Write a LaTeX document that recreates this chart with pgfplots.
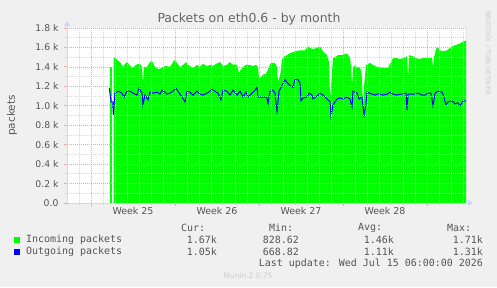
\documentclass[border=0pt]{standalone}
\usepackage{fontspec}
\setmainfont{DejaVu Sans}
\newfontfamily\monofont{DejaVu Sans Mono}
\usepackage{pgfplots}
\pgfplotsset{compat=1.18}
\usetikzlibrary{arrows.meta}
\definecolor{bgc}{HTML}{F0F0F0}
\definecolor{fontc}{HTML}{555555}
\definecolor{titlec}{HTML}{666666}
\definecolor{axc}{HTML}{CFD6F8}
\definecolor{mgrid}{HTML}{EBA8A8}
\definecolor{mingrid}{HTML}{D8D8D8}
\definecolor{incol}{HTML}{00FF00}
\definecolor{outcol}{HTML}{0000FF}
\begin{document}
\begin{tikzpicture}[x=1bp,y=1bp]
\fill[bgc] (0,0) rectangle (497,287);
\begin{axis}[
  at={(67bp,84bp)}, anchor=south west,
  scale only axis, width=399bp, height=175bp,
  xmin=0, xmax=33.25, ymin=0, ymax=1800,
  axis background/.style={fill=white},
  axis on top,
  axis x line*=bottom, axis y line*=left,
  axis line style={axc, line width=1bp},
  xtick={2,9,16,23,30}, xticklabels={},
  minor xtick={0,1,...,33},
  ytick={0,200,...,1800},
  yticklabels={0.0,0.2 k,0.4 k,0.6 k,0.8 k,1.0 k,1.2 k,1.4 k,1.6 k,1.8 k},
  minor ytick={100,300,...,1700},
  grid=both,
  major grid style={mgrid, line width=0.7bp, dash pattern=on 1bp off 1bp},
  minor grid style={mingrid, line width=0.7bp, dash pattern=on 1bp off 1bp},
  tick align=outside,
  major tick length=3bp, minor tick length=2bp,
  major tick style={mgrid, line width=0.8bp},
  minor tick style={mingrid, line width=0.8bp},
  ticklabel style={font=\fontsize{9.3}{11}\selectfont, text=fontc},
  yticklabel style={xshift=-2bp},
  extra x ticks={5.5,12.5,19.5,26.5},
  extra x tick labels={Week 25,Week 26,Week 27,Week 28},
  extra x tick style={grid=none, major tick length=0pt, xticklabel style={font=\fontsize{9.5}{11}\selectfont, text=fontc, yshift=-1bp}},
]
\addplot[draw=none, fill=incol] coordinates {(3.58,1400)(3.75,1400)} \closedcycle;
\addplot[draw=none, fill=incol] coordinates {
(3.89,1500)(4.08,1490)(4.17,1470)(4.42,1450)(4.67,1400)(4.83,1430)(5.00,1450)(5.25,1410)
(5.50,1390)(5.75,1420)(5.92,1430)(6.08,1430)(6.25,1400)(6.33,1230)(6.42,1400)(6.67,1400)
(6.92,1450)(7.08,1460)(7.33,1400)(7.58,1380)(7.75,1380)(8.00,1400)(8.25,1410)(8.58,1400)
(8.75,1430)(8.92,1470)(9.17,1440)(9.42,1400)(9.67,1420)(9.92,1450)(10.08,1420)(10.25,1410)
(10.50,1390)(10.83,1420)(11.08,1400)(11.33,1430)(11.67,1410)(11.92,1420)(12.17,1410)(12.42,1430)
(12.75,1450)(13.00,1410)(13.33,1420)(13.58,1450)(13.83,1420)(14.08,1430)(14.25,1390)(14.33,1330)
(14.42,1360)(14.67,1400)(14.92,1420)(15.25,1420)(15.50,1410)(15.75,1420)(15.92,1400)(16.00,1280)
(16.17,1300)(16.33,1320)(16.58,1330)(16.75,1370)(16.92,1430)(17.08,1440)(17.33,1440)(17.50,1400)
(17.58,1250)(17.75,1300)(17.92,1470)(18.00,1500)(18.33,1520)(18.58,1540)(19.00,1560)(19.42,1570)
(19.83,1570)(20.08,1610)(20.50,1580)(20.83,1600)(21.08,1610)(21.33,1560)(21.67,1520)(21.83,1450)
(21.92,1090)(22.00,1200)(22.17,1500)(22.33,1500)(22.58,1520)(22.92,1520)(23.33,1540)(23.58,1500)
(23.67,1400)(23.75,1200)(23.83,1390)(24.00,1420)(24.17,1390)(24.42,1400)(24.58,1300)(24.67,940)
(24.75,1200)(24.92,1420)(25.25,1440)(25.50,1420)(25.83,1400)(26.33,1390)(26.75,1390)(27.00,1450)
(27.17,1490)(27.50,1490)(27.75,1480)(28.00,1490)(28.33,1510)(28.42,1280)(28.50,1520)(28.83,1510)
(29.25,1480)(29.67,1490)(30.08,1490)(30.42,1490)(30.50,1390)(30.58,1500)(30.83,1610)(31.08,1570)
(31.33,1560)(31.67,1570)(32.08,1610)(32.50,1630)(32.75,1640)(33.00,1660)(33.25,1670)
} \closedcycle;
\addplot[outcol, line width=1bp] coordinates {
(3.53,1180)(3.67,1040)(3.81,1040)(3.86,905)(4.00,1130)(4.25,1150)(4.58,1130)(4.75,1090)
(5.00,1150)(5.25,1150)(5.50,1130)(5.83,1110)(6.00,1180)(6.25,1130)(6.33,1010)(6.50,1110)
(6.75,1060)(6.92,1140)(7.17,1130)(7.50,1140)(7.75,1120)(7.92,1160)(8.17,1140)(8.33,1120)
(8.58,1130)(8.83,1150)(9.08,1180)(9.25,1150)(9.58,1090)(9.83,1040)(10.00,1150)(10.25,1140)
(10.50,1110)(10.83,1150)(11.08,1120)(11.33,1110)(11.67,1130)(11.92,1150)(12.08,1170)(12.33,1150)
(12.58,1130)(12.83,1060)(13.00,1160)(13.33,1150)(13.58,1110)(13.83,1160)(14.17,1110)(14.42,1150)
(14.67,1090)(14.92,1140)(15.08,1090)(15.42,1130)(15.67,1160)(15.83,1190)(15.92,1090)(16.25,1090)
(16.50,1090)(16.67,1080)(16.75,1020)(16.92,1150)(17.17,1160)(17.33,1130)(17.50,940)(17.67,1150)
(17.92,1210)(18.17,1270)(18.33,1240)(18.58,1210)(18.83,1190)(19.00,1270)(19.25,1270)(19.42,1230)
(19.50,1050)(19.67,1080)(20.00,1090)(20.17,1130)(20.42,1110)(20.50,1070)(20.83,1100)(21.08,1130)
(21.33,1110)(21.67,1070)(21.92,1040)(22.00,890)(22.17,1010)(22.50,1070)(22.75,1080)(23.00,1070)
(23.33,1090)(23.58,1070)(23.75,990)(23.83,1150)(24.17,1130)(24.33,1070)(24.58,1090)(24.75,905)
(24.92,1020)(25.00,1140)(25.42,1120)(25.67,1110)(25.83,1120)(26.08,1120)(26.33,1110)(26.67,1120)
(26.92,1140)(27.17,1120)(27.50,1110)(27.75,1120)(28.00,1120)(28.25,1130)(28.33,955)(28.42,1120)
(28.75,1120)(29.00,1120)(29.25,1130)(29.58,1110)(29.83,1110)(30.08,1130)(30.33,1130)(30.50,1000)
(30.67,1130)(30.92,1150)(31.25,1140)(31.33,1120)(31.58,1010)(31.75,1040)(32.08,1050)(32.33,1020)
(32.58,1030)(32.75,1000)(33.00,1050)(33.25,1050)
};
\draw[gray!80, line width=1bp] (axis cs:33.25,0) -- (axis cs:33.25,1800);
\end{axis}
% axis arrows
\draw[axc, line width=1bp, -{Triangle[length=5bp,width=6bp]}] (67,84) -- (67,266);
\draw[axc, line width=1bp, -{Triangle[length=5bp,width=6bp]}] (67,84) -- (473,84);
% title and labels
\node[font=\fontsize{12.5}{14}\selectfont, text=titlec] at (249,268) {Packets on eth0.6 - by month};
\node[rotate=90, font=\fontsize{10.5}{12}\selectfont, text=fontc] at (12,171.5) {packets};
\node[rotate=-90, font=\fontsize{6.5}{8}\selectfont, text={rgb,255:red,200;green,200;blue,200}] at (488,234) {RRDTOOL / TOBI OETIKER};
% legend
\begin{scope}[every node/.style={inner sep=0pt, font=\monofont\fontsize{10}{12}\selectfont, text=fontc}]
\node[anchor=west] at (181,59) {Cur:};
\node[anchor=west] at (269,59) {Min:};
\node[anchor=west] at (358,59) {Avg:};
\node[anchor=west] at (447,59) {Max:};
\fill[incol] (14,44) rectangle (20,50);
\node[anchor=west] at (26,47) {Incoming packets};
\node[anchor=east] at (217,47) {1.67k};
\node[anchor=east] at (299,47) {828.62};
\node[anchor=east] at (394,47) {1.46k};
\node[anchor=east] at (483,47) {1.71k};
\fill[outcol] (14,32) rectangle (20,38);
\node[anchor=west] at (26,35) {Outgoing packets};
\node[anchor=east] at (217,35) {1.05k};
\node[anchor=east] at (299,35) {668.82};
\node[anchor=east] at (394,35) {1.11k};
\node[anchor=east] at (483,35) {1.31k};
\node[anchor=east] at (483,23) {Last update: Wed Jul 15 06:00:00 2026};
\end{scope}
\node[font=\fontsize{7.5}{9}\selectfont, text={rgb,255:red,204;green,204;blue,204}] at (248,11) {Munin 2.0.75};
\end{tikzpicture}
\end{document}
